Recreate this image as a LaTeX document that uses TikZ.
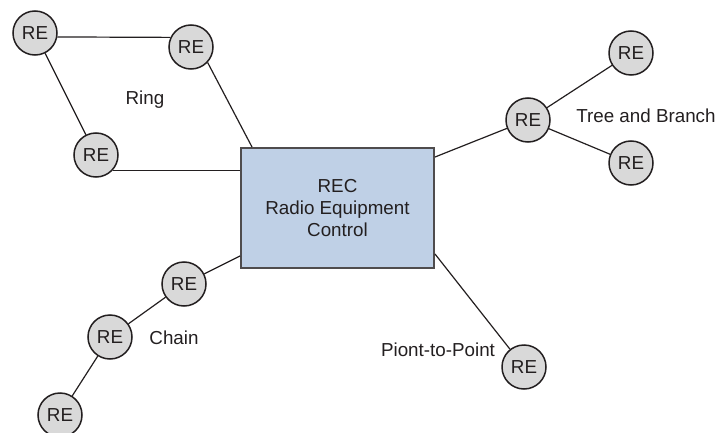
\documentclass[tikz,border=0pt]{standalone}
\usepackage{fontspec}
\setmainfont{Liberation Sans}
\usepackage{tikz}
\usetikzlibrary{positioning}
\definecolor{recblue}{HTML}{BFD0E6}
\definecolor{regray}{HTML}{D9D9D9}
\definecolor{inkgray}{HTML}{231F20}

\begin{document}
\begin{tikzpicture}[
    x=0.5pt, y=-0.5pt,
    font=\fontsize{9.4}{10.9}\selectfont,
    text=inkgray,
    % Styles
    rebox/.style={
        circle, draw=inkgray, line width=0.75pt,
        fill=regray, inner sep=0pt,
        minimum size=22pt
    },
    recbox/.style={
        rectangle, draw=inkgray!80, line width=1pt,
        fill=recblue, align=center,
        minimum width=96.5pt, minimum height=60pt
    },
    link/.style={draw=inkgray, line width=0.6pt},
    toplabel/.style={inner sep=0pt}
]
\useasboundingbox (0,0) rectangle (717,433);

% ── CONTROLLER ──
\node[recbox] (rec) at (337.5,208) {REC\\Radio Equipment\\Control};

% ── RING ──
\node[rebox] (ring1) at (35,33) {RE};
\node[rebox] (ring2) at (191,47) {RE};
\node[rebox] (ring3) at (96,155) {RE};
\node[toplabel] (ringlabel) at (145,100) {Ring};

\draw[link] (ring1.-10) -- (ring2.155);
\draw[link] (ring1) -- (ring3);
\draw[link] (ring3.-43) -- (ring3.-43 -| rec.west);
\draw[link] (ring2.-43) -- ([xshift=6pt]rec.north west);

% ── TREE AND BRANCH ──
\node[rebox] (tree0) at (528,120) {RE};
\node[rebox] (tree1) at (631,53) {RE};
\node[rebox] (tree2) at (631,163) {RE};
\node[toplabel, anchor=east] (treelabel) at (716,116) {Tree and Branch};

\draw[link] ([yshift=-5pt]rec.north east) -- (tree0);
\draw[link] (tree0) -- (tree1);
\draw[link] (tree0) -- (tree2);

% ── CHAIN ──
\node[rebox] (chain1) at (184,284) {RE};
\node[rebox] (chain2) at (110,337) {RE};
\node[rebox] (chain3) at (60,415) {RE};
\node[toplabel] (chainlabel) at (174,338) {Chain};

\draw[link] ([yshift=6.5pt]rec.south west) -- (chain1);
\draw[link] (chain1) -- (chain2);
\draw[link] (chain2) -- (chain3);

% ── POINT-TO-POINT ──
\node[rebox] (p2p) at (524,367) {RE};
\node[toplabel] (p2plabel) at (438,350) {Piont-to-Point};

\draw[link] ([yshift=7.5pt]rec.south east) -- (p2p);

\end{tikzpicture}
\end{document}
